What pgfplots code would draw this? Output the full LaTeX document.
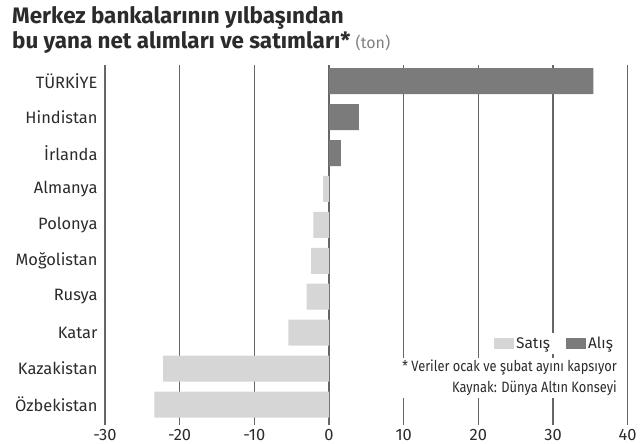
\documentclass[border=0pt]{standalone}
\usepackage{fontspec}
\setmainfont{Fira Sans}
\newfontfamily\condfont{Fira Sans}[FakeStretch=0.86]
\usepackage{pgfplots}
\pgfplotsset{compat=1.18}
\definecolor{alis}{HTML}{7B7B7B}
\definecolor{satis}{HTML}{D6D6D6}
\definecolor{gridc}{HTML}{666666}
\definecolor{txt}{HTML}{2B2B2B}

\begin{document}
\begin{tikzpicture}
\path[use as bounding box] (0,0) rectangle (640bp,444bp);
\node[anchor=base west, inner sep=0, text=txt, font=\fontsize{22.5}{26}\selectfont\bfseries] at (12bp,420bp) {Merkez bankalarının yılbaşından};
\node[anchor=base west, inner sep=0, text=txt, font=\fontsize{22.5}{26}\selectfont\bfseries] at (12bp,395bp) {bu yana net alımları ve satımları*\ {\fontsize{16}{18}\mdseries\color{gray}(ton)}};
\begin{axis}[
	at={(105bp,19bp)}, anchor=south west,
	scale only axis,
	width=522.7bp, height=360bp,
	xbar, bar width=26bp, bar shift=0pt,
	xmin=-30, xmax=40,
	ymin=-0.45, ymax=9.57, y dir=reverse,
	xtick={-30,-20,...,40},
	xticklabels={-30,-20,-10,0,10,20,30,40},
	ytick={0,...,9},
	yticklabels={TÜRKİYE,Hindistan,İrlanda,Almanya,Polonya,Moğolistan,Rusya,Katar,Kazakistan,Özbekistan},
	xmajorgrids,
	major grid style={gridc, line width=1.2bp},
	axis line style={draw=none},
	major tick length=0pt,
	tick label style={font=\fontsize{16.5}{18}\selectfont, text=txt},
	yticklabel style={xshift=-4bp},
	xticklabel style={yshift=-1bp},
	/pgf/number format/assume math mode=true,
	legend columns=2,
	legend cell align=left,
	legend style={
		at={(axis description cs:0.98,0.256)}, anchor=north east,
		draw=none, fill=white, inner sep=2bp,
		font=\fontsize{15.5}{17}\selectfont, text=txt,
		/tikz/every even column/.append style={column sep=14bp},
		nodes={inner xsep=2bp},
	},
]
\addplot[fill=satis, draw=none,
	legend image code/.code={\fill (0bp,-5.5bp) rectangle (20bp,5.5bp);}]
	coordinates {(-0.8,3) (-2.1,4) (-2.4,5) (-3.0,6) (-5.45,7) (-22.2,8) (-23.4,9)};
\addlegendentry{Satış}
\addplot[fill=alis, draw=none,
	legend image code/.code={\fill (0bp,-5.5bp) rectangle (20bp,5.5bp);}]
	coordinates {(35.4,0) (4.0,1) (1.6,2)};
\addlegendentry{Alış}
\end{axis}
\node[anchor=north east, fill=white, align=right, inner sep=2bp, text=txt,
	font=\condfont\fontsize{15}{21}\selectfont] at (619bp,86bp)
	{* Veriler ocak ve şubat ayını kapsıyor\\Kaynak: Dünya Altın Konseyi};
\end{tikzpicture}
\end{document}
